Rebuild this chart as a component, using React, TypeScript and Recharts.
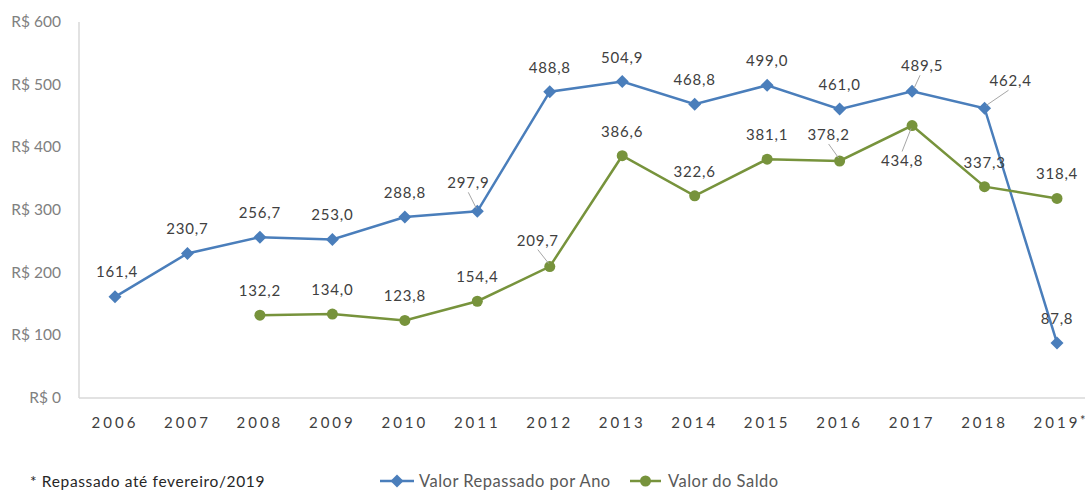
import React from 'react';
import { LineChart, Line, XAxis, YAxis } from 'recharts';

const years = ['2006', '2007', '2008', '2009', '2010', '2011', '2012', '2013', '2014', '2015', '2016', '2017', '2018', '2019*'];
const repassado = [161.4, 230.7, 256.7, 253.0, 288.8, 297.9, 488.8, 504.9, 468.8, 499.0, 461.0, 489.5, 462.4, 87.8];
const saldo = [null, null, 132.2, 134.0, 123.8, 154.4, 209.7, 386.6, 322.6, 381.1, 378.2, 434.8, 337.3, 318.4];
const yTicks = [0, 100, 200, 300, 400, 500, 600];

const SERIES_A = 'Valor Repassado por Ano';
const SERIES_B = 'Valor do Saldo';
const FOOTNOTE = '* Repassado até fevereiro/2019';

const BLUE = '#4a7ebb';
const GREEN = '#77933c';
const FONT = 'Lato, "Open Sans", sans-serif';

const data = years.map((y, i) => ({ year: y, repassado: repassado[i], saldo: saldo[i] }));

// label placement tweaks (style only): [dx, dy, leader]
const blueLabelPos: Record<number, [number, number, boolean]> = {
  0: [2, -25, false],
  5: [-9, -28, true],
  11: [10, -25, true],
  12: [26, -27, true],
};
const greenLabelPos: Record<number, [number, number, boolean]> = {
  6: [-12, -26, true],
  10: [-11, -26, true],
  11: [-10, 35, true],
};

const fmt = (v: number) => v.toFixed(1).replace('.', ',');

const makeLabel = (pos: Record<number, [number, number, boolean]>) => (props: any) => {
  const { x, y, value, index } = props;
  if (value == null || x == null || y == null) return null;
  const [dx, dy, leader] = pos[index] || [0, -24, false];
  const cx = x + dx;
  const cy = y + dy;
  let line = null;
  if (leader) {
    const sx = cx + (dx > 0 ? -2 : 0);
    const sy = dy < 0 ? cy + 9 : cy - 9;
    const ex = x + (dx > 0 ? 2 : -1);
    const ey = dy < 0 ? y - 3 : y + 3;
    line = <line x1={sx} y1={sy} x2={ex} y2={ey} stroke="#a6a6a6" strokeWidth={1} />;
  }
  return (
    <g>
      {line}
      <text x={cx} y={cy} dy={5} textAnchor="middle" fontFamily={FONT} fontSize={15} fill="#404040" letterSpacing={0.8}>
        {fmt(value)}
      </text>
    </g>
  );
};

const Diamond = (props: any) => {
  const { cx, cy } = props;
  if (cx == null || cy == null || props.value == null) return null;
  const r = 6.5;
  return <path d={`M${cx},${cy - r}L${cx + r},${cy}L${cx},${cy + r}L${cx - r},${cy}Z`} fill={BLUE} />;
};

const Dot = (props: any) => {
  const { cx, cy } = props;
  if (cx == null || cy == null || props.value == null) return null;
  return <circle cx={cx} cy={cy} r={5.5} fill={GREEN} />;
};

const XTick = (props: any) => {
  const { x, y, payload } = props;
  const v: string = String(payload.value);
  const star = v.endsWith('*');
  const base = star ? v.slice(0, -1) : v;
  return (
    <g>
      <text x={x} y={y} dy={28} textAnchor="middle" fontFamily={FONT} fontSize={15} fill="#404040" letterSpacing={3}>
        {base}
      </text>
      {star && (
        <text x={x + 23} y={y} dy={25} textAnchor="start" fontFamily={FONT} fontSize={13} fill="#404040">
          *
        </text>
      )}
    </g>
  );
};

const YTick = (props: any) => {
  const { x, y, payload } = props;
  return (
    <text x={x} y={y} dy={5} textAnchor="end" fontFamily={FONT} fontSize={15.5} fill="#808080">
      {`R$ ${payload.value}`}
    </text>
  );
};

const legendText: React.CSSProperties = {
  fontFamily: FONT,
  fontSize: 16.5,
  letterSpacing: 0.5,
  lineHeight: '20px',
  color: '#595959',
  whiteSpace: 'nowrap',
};

export default function App() {
  return (
    <div style={{ position: 'fixed', left: 0, top: 0, width: 1085, height: 491, overflow: 'hidden', background: '#fff' }}>
      <LineChart width={1093} height={491} data={data} margin={{ top: 22, right: 0, bottom: 63, left: 0 }}>
        <XAxis
          dataKey="year"
          height={30}
          tickLine={false}
          tickSize={0}
          padding={{ left: 36, right: 36 }}
          axisLine={{ stroke: '#d9d9d9', strokeWidth: 1.5 }}
          tick={<XTick />}
          interval={0}
        />
        <YAxis
          width={79}
          domain={[0, 600]}
          ticks={yTicks}
          tickLine={false}
          tickSize={0}
          tickMargin={18}
          axisLine={{ stroke: '#d9d9d9', strokeWidth: 1.5 }}
          tick={<YTick />}
          interval={0}
        />
        <Line
          type="linear"
          dataKey="repassado"
          name={SERIES_A}
          stroke={BLUE}
          strokeWidth={2.5}
          dot={<Diamond />}
          activeDot={false}
          label={makeLabel(blueLabelPos)}
          isAnimationActive={false}
        />
        <Line
          type="linear"
          dataKey="saldo"
          name={SERIES_B}
          stroke={GREEN}
          strokeWidth={2.5}
          dot={<Dot />}
          activeDot={false}
          label={makeLabel(greenLabelPos)}
          isAnimationActive={false}
          connectNulls={false}
        />
      </LineChart>
      <div style={{ position: 'absolute', left: 30, top: 471, fontFamily: FONT, fontSize: 15.5, lineHeight: '20px', color: '#262626', whiteSpace: 'nowrap', letterSpacing: 0.65 }}>
        {FOOTNOTE}
      </div>
      <div style={{ position: 'absolute', left: 380, top: 471, height: 20, display: 'flex', alignItems: 'center' }}>
        <svg width={34} height={20} style={{ marginRight: 5 }}>
          <line x1={0} y1={10} x2={34} y2={10} stroke={BLUE} strokeWidth={2.5} />
          <path d="M17,3.5L23.5,10L17,16.5L10.5,10Z" fill={BLUE} />
        </svg>
        <span style={legendText}>{SERIES_A}</span>
      </div>
      <div style={{ position: 'absolute', left: 630, top: 471, height: 20, display: 'flex', alignItems: 'center' }}>
        <svg width={31} height={20} style={{ marginRight: 7 }}>
          <line x1={0} y1={10} x2={31} y2={10} stroke={GREEN} strokeWidth={2.5} />
          <circle cx={15.5} cy={10} r={5.5} fill={GREEN} />
        </svg>
        <span style={legendText}>{SERIES_B}</span>
      </div>
    </div>
  );
}
